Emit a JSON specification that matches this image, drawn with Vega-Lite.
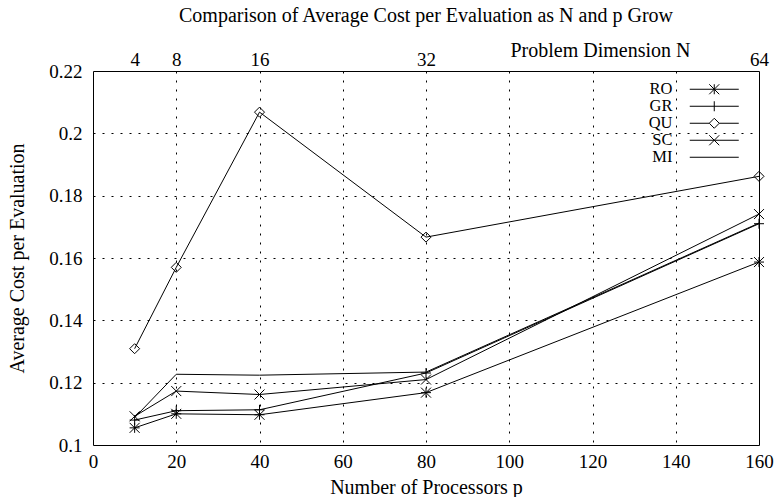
{
  "$schema": "https://vega.github.io/schema/vega-lite/v6.json",
  "width": 666,
  "height": 374,
  "autosize": "none",
  "padding": {"left": 93, "top": 71, "right": 17, "bottom": 52},
  "background": "white",
  "title": {
    "text": "Comparison of Average Cost per Evaluation as N and p Grow",
    "font": "Liberation Serif",
    "fontSize": 20,
    "fontWeight": "normal",
    "color": "black",
    "anchor": "middle",
    "baseline": "alphabetic",
    "offset": 9,
    "dy": 11
  },
  "config": {
    "view": {"stroke": "black", "strokeWidth": 1},
    "axis": {
      "labelFont": "Liberation Serif",
      "titleFont": "Liberation Serif",
      "labelFontSize": 19,
      "titleFontSize": 20,
      "titleFontWeight": "normal",
      "labelColor": "black",
      "titleColor": "black",
      "domain": false,
      "tickSize": 0,
      "ticks": true,
      "tickColor": "black",
      "tickWidth": 1,
      "labelFlush": false,
      "labelOverlap": false,
      "labelBound": false,
      "gridColor": "black",
      "gridDash": [2, 7],
      "gridWidth": 1
    },
    "legend": {
      "labelFont": "Liberation Serif",
      "labelFontSize": 16.5,
      "labelColor": "black"
    }
  },
  "data": {
    "values": [
      {"series": "RO", "p": 10, "cost": 0.1055},
      {"series": "RO", "p": 20, "cost": 0.1100},
      {"series": "RO", "p": 40, "cost": 0.1097},
      {"series": "RO", "p": 80, "cost": 0.1168},
      {"series": "RO", "p": 160, "cost": 0.1587},
      {"series": "GR", "p": 10, "cost": 0.1080},
      {"series": "GR", "p": 20, "cost": 0.1110},
      {"series": "GR", "p": 40, "cost": 0.1113},
      {"series": "GR", "p": 80, "cost": 0.1231},
      {"series": "GR", "p": 160, "cost": 0.1710},
      {"series": "QU", "p": 10, "cost": 0.1309},
      {"series": "QU", "p": 20, "cost": 0.1570},
      {"series": "QU", "p": 40, "cost": 0.2068},
      {"series": "QU", "p": 80, "cost": 0.1667},
      {"series": "QU", "p": 160, "cost": 0.1862},
      {"series": "SC", "p": 10, "cost": 0.1092},
      {"series": "SC", "p": 20, "cost": 0.1173},
      {"series": "SC", "p": 40, "cost": 0.1162},
      {"series": "SC", "p": 80, "cost": 0.1210},
      {"series": "SC", "p": 160, "cost": 0.1741},
      {"series": "MI", "p": 10, "cost": 0.1088},
      {"series": "MI", "p": 20, "cost": 0.1227},
      {"series": "MI", "p": 40, "cost": 0.1224},
      {"series": "MI", "p": 80, "cost": 0.1234},
      {"series": "MI", "p": 160, "cost": 0.1712}
    ]
  },
  "layer": [
    {
      "mark": {"type": "line", "strokeWidth": 1},
      "encoding": {
        "x": {
          "field": "p", "type": "quantitative",
          "scale": {"domain": [0, 160], "nice": false, "zero": false},
          "axis": {
            "orient": "bottom",
            "title": "Number of Processors p",
            "titleX": 333, "titleY": 48, "titleBaseline": "alphabetic", "titleAlign": "center",
            "values": [0,2,4,6,8,10,12,14,16,18,20,22,24,26,28,30,32,34,36,38,40,42,44,46,48,50,52,54,56,58,60,62,64,66,68,70,72,74,76,78,80,82,84,86,88,90,92,94,96,98,100,102,104,106,108,110,112,114,116,118,120,122,124,126,128,130,132,134,136,138,140,142,144,146,148,150,152,154,156,158,160],
            "labelExpr": "datum.value % 20 === 0 ? '' + datum.value : ''",
            "labelBaseline": "alphabetic",
            "labelPadding": 22,
            "grid": true,
            "gridOpacity": {"condition": {"test": "datum.value % 20 === 0 && datum.value > 0 && datum.value < 160", "value": 1}, "value": 0},
            "encode": {
              "ticks": {"update": {"y": {"value": 0}, "y2": {"signal": "datum.value % 20 === 0 ? -7 : -3.5"}}}
            }
          }
        },
        "y": {
          "field": "cost", "type": "quantitative",
          "scale": {"domain": [0.1, 0.22], "nice": false, "zero": false},
          "axis": {
            "orient": "left",
            "title": "Average Cost per Evaluation",
            "titleX": -70, "titleY": 187, "titleAngle": -90, "titleBaseline": "alphabetic", "titleAlign": "center",
            "values": [0.1,0.102,0.104,0.106,0.108,0.11,0.112,0.114,0.116,0.118,0.12,0.122,0.124,0.126,0.128,0.13,0.132,0.134,0.136,0.138,0.14,0.142,0.144,0.146,0.148,0.15,0.152,0.154,0.156,0.158,0.16,0.162,0.164,0.166,0.168,0.17,0.172,0.174,0.176,0.178,0.18,0.182,0.184,0.186,0.188,0.19,0.192,0.194,0.196,0.198,0.2,0.202,0.204,0.206,0.208,0.21,0.212,0.214,0.216,0.218,0.22],
            "labelExpr": "round(datum.value * 1000) % 20 === 0 ? format(datum.value, '~g') : ''",
            "labelPadding": 11,
            "grid": true,
            "gridOpacity": {"condition": {"test": "round(datum.value * 1000) % 20 === 0 && datum.value > 0.101 && datum.value < 0.219", "value": 1}, "value": 0},
            "encode": {
              "ticks": {"update": {"x": {"value": 0}, "x2": {"signal": "round(datum.value * 1000) % 20 === 0 ? 7 : 3.5"}}}
            }
          }
        },
        "color": {
          "field": "series", "type": "nominal",
          "scale": {"domain": ["RO", "GR", "QU", "SC", "MI"], "range": ["black", "black", "black", "black", "black"]},
          "legend": {
            "title": null,
            "orient": "none",
            "legendX": 613,
            "legendY": 10,
            "padding": 0,
            "symbolSize": 100,
            "symbolStrokeWidth": 1,
            "labelAlign": "right",
            "labelOffset": -50,
            "rowPadding": 0,
            "encode": {
              "symbols": {
                "update": {
                  "shape": {"signal": "datum.value === 'RO' ? 'M-4.9,0H4.9M0,-1V1M-1,-1L1,1M-1,1L1,-1' : datum.value === 'GR' ? 'M-4.9,0H4.9M0,-1V1' : datum.value === 'QU' ? 'M-4.9,0H-1M1,0H4.9M0,-1L1,0L0,1L-1,0Z' : datum.value === 'SC' ? 'M-4.9,0H4.9M-1,-1L1,1M-1,1L1,-1' : 'M-4.9,0H4.9'"},
                  "fill": {"value": "transparent"},
                  "stroke": {"value": "black"},
                  "strokeWidth": {"value": 1},
                  "opacity": {"value": 1}
                }
              }
            }
          }
        }
      }
    },
    {
      "transform": [{"filter": "datum.series !== 'MI'"}],
      "mark": {"type": "point", "filled": false, "strokeWidth": 1, "color": "black", "opacity": 1, "size": 100},
      "encoding": {
        "x": {
          "field": "p", "type": "quantitative",
          "scale": {"domain": [0, 160], "nice": false, "zero": false},
          "axis": {
            "orient": "top",
            "title": "Problem Dimension N",
            "titleX": 507, "titleY": -15, "titleBaseline": "alphabetic", "titleAlign": "center",
            "values": [0,2,4,6,8,10,12,14,16,18,20,22,24,26,28,30,32,34,36,38,40,42,44,46,48,50,52,54,56,58,60,62,64,66,68,70,72,74,76,78,80,82,84,86,88,90,92,94,96,98,100,102,104,106,108,110,112,114,116,118,120,122,124,126,128,130,132,134,136,138,140,142,144,146,148,150,152,154,156,158,160],
            "labelExpr": "datum.value === 10 ? '4' : datum.value === 20 ? '8' : datum.value === 40 ? '16' : datum.value === 80 ? '32' : datum.value === 160 ? '64' : ''",
            "labelBaseline": "alphabetic",
            "labelPadding": 6,
            "grid": false,
            "encode": {
              "ticks": {"update": {"y": {"value": 0}, "y2": {"signal": "datum.value % 20 === 0 ? 7 : 3.5"}}}
            }
          }
        },
        "y": {
          "field": "cost", "type": "quantitative",
          "scale": {"domain": [0.1, 0.22], "nice": false, "zero": false},
          "axis": {
            "orient": "right",
            "title": null,
            "labels": false,
            "values": [0.1,0.102,0.104,0.106,0.108,0.11,0.112,0.114,0.116,0.118,0.12,0.122,0.124,0.126,0.128,0.13,0.132,0.134,0.136,0.138,0.14,0.142,0.144,0.146,0.148,0.15,0.152,0.154,0.156,0.158,0.16,0.162,0.164,0.166,0.168,0.17,0.172,0.174,0.176,0.178,0.18,0.182,0.184,0.186,0.188,0.19,0.192,0.194,0.196,0.198,0.2,0.202,0.204,0.206,0.208,0.21,0.212,0.214,0.216,0.218,0.22],
            "grid": false,
            "encode": {
              "ticks": {"update": {"x": {"value": 0}, "x2": {"signal": "round(datum.value * 1000) % 20 === 0 ? -7 : -3.5"}}}
            }
          }
        },
        "shape": {
          "field": "series", "type": "nominal",
          "scale": {"domain": ["RO", "GR", "QU", "SC"], "range": ["M-1,0H1M0,-1V1M-1,-1L1,1M-1,1L1,-1", "M-1,0H1M0,-1V1", "M0,-1L1,0L0,1L-1,0Z", "M-1,-1L1,1M-1,1L1,-1"]},
          "legend": null
        }
      }
    }
  ],
  "resolve": {"scale": {"x": "independent", "y": "independent"}, "axis": {"x": "independent", "y": "independent"}}
}
